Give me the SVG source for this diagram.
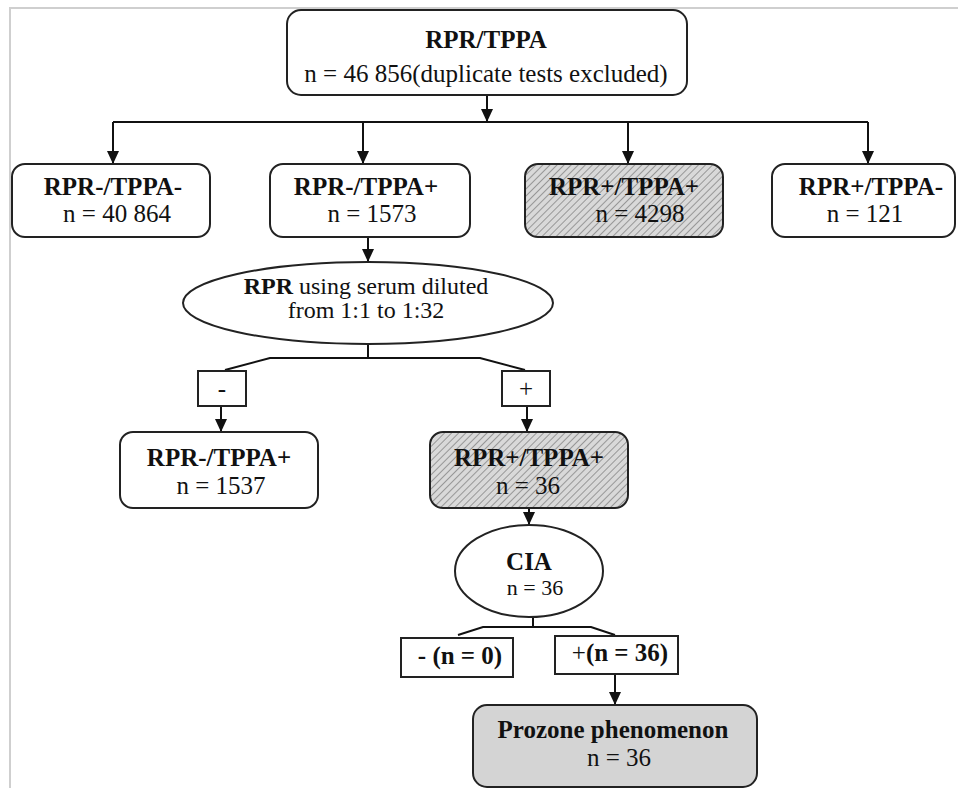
<svg xmlns="http://www.w3.org/2000/svg" width="958" height="788" viewBox="0 0 958 788">
<defs>
<marker id="arr" markerUnits="userSpaceOnUse" markerWidth="14" markerHeight="14" viewBox="0 0 14 14" refX="13" refY="7" orient="auto">
<path d="M0,1 L13,7 L0,13 Z" fill="#111"/>
</marker>
<pattern id="hatch" patternUnits="userSpaceOnUse" width="5" height="5" patternTransform="rotate(45)">
<rect width="5" height="5" fill="#d9d9d9"/>
<line x1="0" y1="0" x2="0" y2="5" stroke="#6a6a6a" stroke-width="1.2"/>
</pattern>
<style>
.box{fill:#fff;stroke:#222;stroke-width:2}
.hb{fill:url(#hatch);stroke:#222;stroke-width:2}
.gb{fill:#d4d4d4;stroke:#222;stroke-width:2}
.ln{fill:none;stroke:#111;stroke-width:2}
.t{font-size:25px;fill:#111;text-anchor:middle}
.b{font-weight:bold}
</style>
</defs>
<rect width="958" height="788" fill="#fff"/>
<path d="M10,788 V8 H958" fill="none" stroke="#cfcfcf" stroke-width="2"/>

<g id="connectors">
<line class="ln" x1="487" y1="95" x2="487" y2="122" marker-end="url(#arr)"/>
<line class="ln" x1="113" y1="122" x2="868" y2="122"/>
<line class="ln" x1="113" y1="122" x2="113" y2="164" marker-end="url(#arr)"/>
<line class="ln" x1="363" y1="122" x2="363" y2="164" marker-end="url(#arr)"/>
<line class="ln" x1="628" y1="122" x2="628" y2="164" marker-end="url(#arr)"/>
<line class="ln" x1="868" y1="122" x2="868" y2="164" marker-end="url(#arr)"/>
<line class="ln" x1="368" y1="237" x2="368" y2="262" marker-end="url(#arr)"/>
<path class="ln" d="M368,345 V358 M225,370 L270,358 H480 L525,370"/>
<line class="ln" x1="221" y1="406" x2="221" y2="432" marker-end="url(#arr)"/>
<line class="ln" x1="527" y1="406" x2="527" y2="432" marker-end="url(#arr)"/>
<line class="ln" x1="529" y1="508" x2="529" y2="525" marker-end="url(#arr)"/>
<path class="ln" d="M533,617 V627 M458,635 L483,627 H591 L615,635"/>
<line class="ln" x1="615" y1="674" x2="615" y2="705" marker-end="url(#arr)"/>
</g>

<g font-family="'Liberation Serif', 'Times New Roman', 'DejaVu Serif', serif">
<g id="n_top">
<rect class="box" x="287" y="10" width="400" height="85" rx="14"/>
<text class="t b" x="486" y="48">RPR/TPPA</text>
<text class="t" x="486" y="82">n = 46 856(duplicate tests excluded)</text>
</g>

<g id="n_nn">
<rect class="box" x="12" y="164" width="198" height="73" rx="13"/>
<text class="t b" x="113" y="195">RPR-/TPPA-</text>
<text class="t" x="117" y="222">n = 40 864</text>
</g>

<g id="n_np">
<rect class="box" x="270" y="164" width="200" height="73" rx="13"/>
<text class="t b" x="366" y="195">RPR-/TPPA+</text>
<text class="t" x="372" y="222">n = 1573</text>
</g>

<g id="n_pp">
<rect class="hb" x="525" y="164" width="198" height="73" rx="13"/>
<text class="t b" x="624" y="195">RPR+/TPPA+</text>
<text class="t" x="640" y="222">n = 4298</text>
</g>

<g id="n_pn">
<rect class="box" x="772" y="164" width="183" height="73" rx="13"/>
<text class="t b" x="871" y="195">RPR+/TPPA-</text>
<text class="t" x="865" y="222">n = 121</text>
</g>

<g id="n_rpr">
<ellipse class="box" cx="368" cy="303" rx="185" ry="41"/>
<text class="t" x="366" y="294" style="font-size:24px"><tspan class="b">RPR</tspan> using serum diluted</text>
<text class="t" x="366" y="318" style="font-size:24px">from 1:1 to 1:32</text>
</g>

<g id="n_minus">
<rect class="box" x="198" y="371" width="48" height="35"/>
<text class="t" x="222" y="397">-</text>
</g>

<g id="n_plus">
<rect class="box" x="502" y="371" width="48" height="35"/>
<text class="t" x="526" y="397">+</text>
</g>

<g id="n_np2">
<rect class="box" x="120" y="432" width="198" height="76" rx="13"/>
<text class="t b" x="219" y="466">RPR-/TPPA+</text>
<text class="t" x="221" y="494">n = 1537</text>
</g>

<g id="n_pp2">
<rect class="hb" x="430" y="432" width="198" height="76" rx="13"/>
<text class="t b" x="529" y="466">RPR+/TPPA+</text>
<text class="t" x="528" y="494">n = 36</text>
</g>

<g id="n_cia">
<ellipse class="box" cx="529" cy="571" rx="74" ry="46"/>
<text class="t b" x="529" y="570">CIA</text>
<text class="t" x="535" y="595" style="font-size:22px">n = 36</text>
</g>

<g id="n_cminus">
<rect class="box" x="401" y="638" width="112" height="39"/>
<text class="t b" x="460" y="664">- (n = 0)</text>
</g>

<g id="n_cplus">
<rect class="box" x="555" y="636" width="123" height="38"/>
<text class="t b" x="620" y="661"><tspan font-weight="normal">+</tspan>(n = 36)</text>
</g>

<g id="n_prozone">
<rect class="gb" x="473" y="705" width="284" height="82" rx="14"/>
<text class="t b" x="613" y="738">Prozone phenomenon</text>
<text class="t" x="619" y="766">n = 36</text>
</g>
</g>
</svg>
